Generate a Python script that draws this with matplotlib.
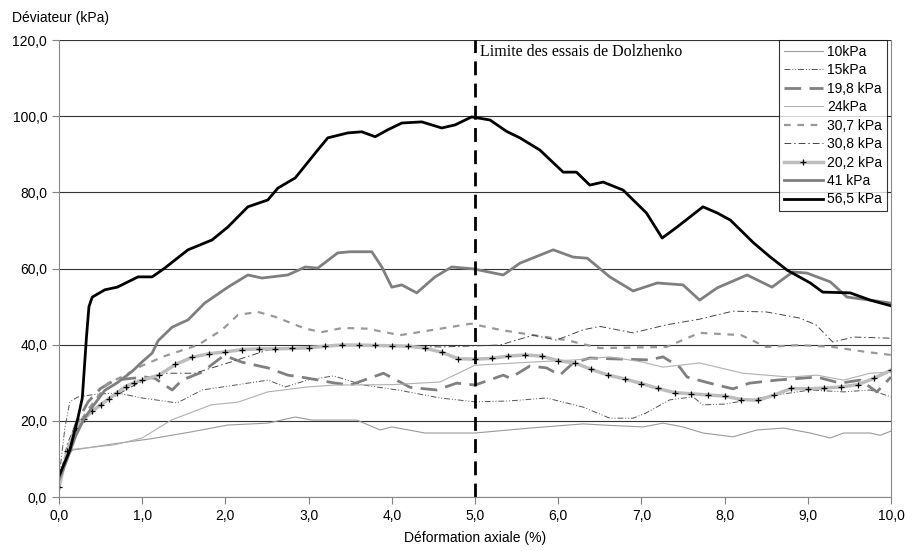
import matplotlib
matplotlib.use('Agg')
import matplotlib.pyplot as plt
from matplotlib.ticker import FuncFormatter, MultipleLocator

plt.rcParams['font.family'] = ['Liberation Sans', 'DejaVu Sans']

# Données (déformation axiale %, déviateur kPa)
x_10 = [0, 0.08, 0.16, 0.67, 1.11, 1.59, 2.03, 2.51, 2.84, 3.04, 3.58, 3.86, 4.0, 4.4, 5.0, 5.66,
        6.3, 6.62, 7.02, 7.26, 7.5, 7.74, 8.1, 8.39, 8.71, 9.03, 9.27, 9.43, 9.75, 9.87, 10.0]
y_10 = [4, 10, 12.3, 14, 15.3, 17.1, 18.9, 19.4, 21, 20.2, 20.2, 17.6, 18.4, 16.8, 16.8, 18.1,
        19.2, 18.8, 18.4, 19.4, 18.4, 16.8, 15.8, 17.6, 18.1, 16.8, 15.5, 16.8, 16.8, 16.2, 17.3]

x_15 = [0, 0.07, 0.13, 0.23, 0.45, 0.71, 1.0, 1.42, 1.72, 2.12, 2.51, 2.72, 2.99, 3.3, 3.66, 4.1,
        4.58, 5.0, 5.4, 5.86, 6.3, 6.62, 6.9, 7.05, 7.34, 7.62, 7.74, 8.0, 8.3, 8.63, 9.03, 9.43,
        9.75, 10.0]
y_15 = [5, 18, 25, 26.3, 27, 27.3, 26, 24.7, 28.1, 29.4, 30.7, 28.9, 30.7, 31.8, 29.4, 28,
        26, 25, 25.2, 26, 23.6, 20.7, 20.7, 22, 25.5, 26.3, 24.2, 24.4, 25.5, 26.8, 28.1, 27.6,
        28.1, 26.3]

x_198 = [0, 0.1, 0.2, 0.35, 0.5, 0.67, 1.03, 1.15, 1.36, 1.48, 1.72, 1.96, 2.03, 2.2, 2.51, 2.75,
         2.99, 3.32, 3.5, 3.9, 4.22, 4.54, 4.78, 5.0, 5.34, 5.42, 5.66, 5.86, 6.02, 6.18, 6.38,
         6.62, 7.1, 7.26, 7.46, 7.55, 7.82, 8.1, 8.3, 8.63, 9.11, 9.39, 9.63, 9.83, 10.0]
y_198 = [4, 12, 19, 25, 28.5, 30.7, 31.5, 31.2, 28.1, 30.7, 32.8, 36.8, 36.8, 35.4, 33.9, 32,
         31.2, 29.9, 29.4, 32.5, 28.8, 28.1, 29.9, 29.4, 32, 31.2, 34.4, 33.9, 32, 35.2, 36.5,
         36.3, 36, 36.8, 34.1, 31.5, 29.9, 28.4, 29.9, 30.7, 31.5, 29.9, 30.7, 27.6, 31.5]

x_24 = [0, 0.08, 0.16, 0.67, 1.0, 1.35, 1.83, 2.15, 2.51, 2.99, 3.32, 4.0, 4.58, 5.0, 5.66, 6.2,
        6.62, 7.0, 7.26, 7.7, 8.22, 8.78, 9.11, 9.43, 9.75, 10.0]
y_24 = [4, 10, 12.5, 13.7, 15.5, 20.2, 24.2, 24.9, 27.6, 28.9, 29.4, 29.5, 30.2, 34.6, 35.4, 36,
        36.8, 35.5, 34.1, 35.2, 32.5, 31.5, 32, 30.7, 32.5, 32.8]

x_307 = [0, 0.1, 0.2, 0.35, 0.59, 0.75, 1.0, 1.27, 1.67, 1.96, 2.15, 2.39, 2.6, 2.96, 3.16, 3.41,
         3.7, 4.1, 4.5, 4.95, 5.3, 5.7, 6.1, 6.5, 7.3, 7.7, 8.2, 8.5, 8.9, 9.3, 9.7, 10.0]
y_307 = [4, 12, 18, 23, 29.9, 31.5, 34.5, 37, 39.9, 43.9, 47.8, 48.6, 47.3, 44.2, 43.3, 44.4,
         44.2, 42.5, 43.9, 45.5, 43.9, 42.5, 41.2, 39.1, 39.4, 43.1, 42.5, 39.4, 39.9, 39.4, 38.1, 37.3]

x_308 = [0, 0.1, 0.2, 0.35, 0.55, 0.95, 1.27, 1.63, 2.03, 2.51, 3.32, 4.0, 4.6, 5.3, 5.7, 5.98,
         6.3, 6.5, 6.9, 7.3, 7.7, 8.1, 8.5, 8.9, 9.1, 9.3, 9.55, 10.0]
y_308 = [4, 14, 19, 22, 25, 29.9, 32.5, 32.5, 35.2, 38.6, 39.9, 39.6, 39.4, 39.9, 42.5, 41.2,
         43.9, 44.8, 43.1, 45.2, 46.7, 48.8, 48.6, 47, 45.2, 40.7, 42, 41.7]

x_202 = [0, 0.1, 0.2, 0.3, 0.4, 0.5, 0.6, 0.7, 0.8, 0.9, 1.0, 1.2, 1.4, 1.6, 1.8, 2.0, 2.2, 2.4,
         2.6, 2.8, 3.0, 3.2, 3.4, 3.6, 3.8, 4.0, 4.2, 4.4, 4.6, 4.8, 5.0, 5.2, 5.4, 5.6, 5.8, 6.0,
         6.2, 6.4, 6.6, 6.8, 7.0, 7.2, 7.4, 7.6, 7.8, 8.0, 8.2, 8.4, 8.6, 8.8, 9.0, 9.2, 9.4, 9.6,
         9.8, 10.0]
y_202 = [2.5, 12, 18, 20.5, 22.5, 24.2, 25.8, 27.4, 29, 30, 30.7, 32, 34.8, 36.7, 37.6, 38.1, 38.7,
         38.9, 38.9, 39, 39.2, 39.6, 39.9, 39.9, 39.8, 39.7, 39.6, 39.1, 38, 36.3, 36.2, 36.4, 37,
         37.3, 37, 35.8, 35.2, 33.5, 32, 31, 29.8, 28.5, 27.4, 27.1, 26.8, 26.5, 25.6, 25.4, 26.8,
         28.5, 28.4, 28.6, 28.9, 29.5, 31.2, 33.3]

x_41 = [0, 0.1, 0.2, 0.3, 0.43, 0.55, 0.7, 0.88, 1.0, 1.12, 1.19, 1.36, 1.55, 1.75, 2.03, 2.27,
        2.44, 2.75, 2.96, 3.11, 3.35, 3.5, 3.76, 3.88, 4.0, 4.12, 4.3, 4.52, 4.72, 4.98, 5.34,
        5.54, 5.94, 6.18, 6.35, 6.62, 6.9, 7.19, 7.5, 7.7, 7.91, 8.27, 8.57, 8.82, 8.99, 9.27,
        9.47, 9.75, 10.0]
y_41 = [4.5, 10, 16, 20.5, 24.5, 28, 30, 33, 35.5, 37.8, 41, 44.6, 46.5, 50.9, 55.1, 58.3,
        57.5, 58.3, 60.4, 60.1, 64.1, 64.4, 64.4, 60.4, 55.1, 55.7, 53.6, 57.8, 60.4, 59.9, 58.3,
        61.4, 64.9, 63, 62.7, 57.8, 54.1, 56.2, 55.7, 51.7, 54.9, 58.3, 55.1, 59.1, 58.8, 56.5,
        52.5, 51.7, 50.9]

x_565 = [0, 0.13, 0.23, 0.28, 0.33, 0.36, 0.4, 0.55, 0.7, 0.95, 1.12, 1.27, 1.55, 1.84, 2.03,
         2.27, 2.51, 2.63, 2.84, 3.08, 3.23, 3.47, 3.64, 3.8, 3.95, 4.12, 4.36, 4.6, 4.76, 4.96,
         5.18, 5.38, 5.54, 5.78, 6.06, 6.22, 6.38, 6.54, 6.78, 7.06, 7.25, 7.43, 7.74, 7.91, 8.07,
         8.35, 8.55, 8.75, 9.03, 9.18, 9.51, 9.75, 10.0]
y_565 = [5.5, 12.3, 21, 26, 42, 50, 52.5, 54.4, 55.1, 57.8, 57.8, 60.1, 64.9, 67.5, 70.9,
         76.2, 78, 81.1, 83.8, 90.3, 94.3, 95.6, 95.9, 94.6, 96.4, 98.2, 98.5, 96.9, 97.7, 99.8,
         99, 96, 94.3, 91.1, 85.3, 85.3, 81.9, 82.7, 80.6, 74.6, 68, 70.9, 76.2, 74.6, 72.7,
         66.7, 63, 59.6, 56.2, 53.8, 53.6, 51.7, 50.2]

limite_x = 5.0
limite_txt = 'Limite des essais de Dolzhenko'

fig = plt.figure(figsize=(9.05, 5.51), dpi=100)
ax = fig.add_axes([0.0652, 0.098, 0.9193, 0.8294])

ax.plot(x_10, y_10, color='#9a9a9a', lw=0.8, label='10kPa')
ax.plot(x_15, y_15, color='#555555', lw=0.7, dashes=(6, 2, 1, 2, 1, 2), label='15kPa')
ax.plot(x_198, y_198, color='#808080', lw=2.0, dashes=(6, 3), label='19,8 kPa')
ax.plot(x_24, y_24, color='#b0b0b0', lw=0.8, label='24kPa')
ax.plot(x_307, y_307, color='#999999', lw=1.6, dashes=(3, 3), label='30,7 kPa')
ax.plot(x_308, y_308, color='#444444', lw=0.7, dashes=(7, 3, 1.5, 3), label='30,8 kPa')
ax.plot(x_202, y_202, color='#bdbdbd', lw=2.5, marker='+', ms=5, mec='black', mew=0.9,
        label='20,2 kPa')
ax.plot(x_41, y_41, color='#7f7f7f', lw=2.0, label='41 kPa')
ax.plot(x_565, y_565, color='black', lw=2.0, label='56,5 kPa')

ax.axvline(limite_x, color='black', lw=2.0, dashes=(5, 3))
ax.text(limite_x + 0.06, 116.8, limite_txt, family=['Liberation Serif', 'DejaVu Serif'],
        fontsize=11.5, va='center', ha='left')

ax.set_xlim(0, 10)
ax.set_ylim(0, 120)
ax.xaxis.set_major_locator(MultipleLocator(1))
ax.yaxis.set_major_locator(MultipleLocator(20))
fmt = FuncFormatter(lambda v, p: f'{v:.1f}'.replace('.', ','))
ax.xaxis.set_major_formatter(fmt)
ax.yaxis.set_major_formatter(fmt)
ax.tick_params(labelsize=10, length=5, width=0.8, color='#808080')
ax.yaxis.grid(True, color='#333333', lw=0.8)
ax.set_axisbelow(True)
for s in ['left', 'bottom', 'right']:
    ax.spines[s].set_color('#888888')
ax.spines['top'].set_visible(False)

ax.set_xlabel('Déformation axiale (%)', fontsize=10, labelpad=6)
fig.text(0.013, 0.967, 'Déviateur (kPa)', fontsize=10, va='center', ha='left')

leg = ax.legend(loc='upper right', bbox_to_anchor=(0.995, 1.0), fontsize=10, frameon=True,
                fancybox=False, handlelength=2.8, handletextpad=0.3, labelspacing=0.32,
                borderpad=0.35, borderaxespad=0)
leg.get_frame().set_edgecolor('black')
leg.get_frame().set_linewidth(0.8)

fig.savefig('out.png', dpi=100)
